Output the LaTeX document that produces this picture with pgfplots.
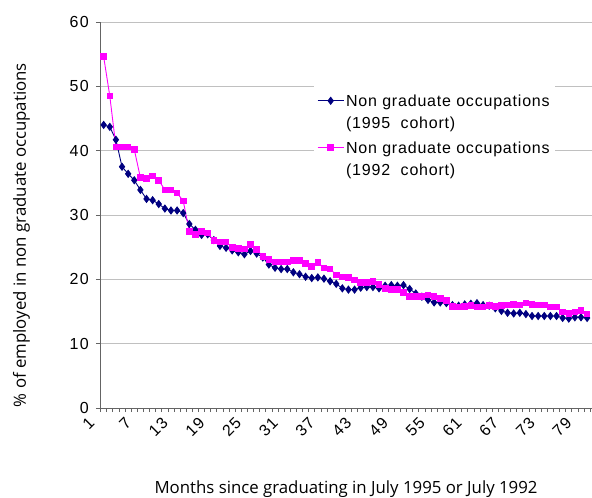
\documentclass[border=0pt]{standalone}
\usepackage{fontspec}
\setmainfont{Liberation Sans}
\newfontfamily\labfont{Open Sans}
\newfontfamily\tickfont{Liberation Sans}[LetterSpace=8]
\newfontfamily\legfont{Liberation Sans}[LetterSpace=5]
\usepackage{pgfplots}
\usepackage{pgfplotstable}
\pgfplotsset{compat=1.18}
\definecolor{navyline}{RGB}{0,0,128}
\definecolor{magline}{RGB}{255,0,255}
\definecolor{gridgray}{RGB}{192,192,192}
\definecolor{axisgray}{RGB}{100,100,100}

% month, 1995 cohort, 1992 cohort (% in non graduate occupations)
\pgfplotstableread{
month c95 c92
1 44.0 54.6
2 43.7 48.5
3 41.7 40.6
4 37.5 40.6
5 36.4 40.6
6 35.4 40.2
7 33.9 35.8
8 32.5 35.7
9 32.3 36.1
10 31.7 35.4
11 31.0 33.9
12 30.7 33.9
13 30.7 33.4
14 30.3 32.2
15 28.6 27.4
16 27.7 27.0
17 26.9 27.4
18 27.0 27.2
19 26.1 26.0
20 25.2 25.8
21 24.9 25.8
22 24.5 25.0
23 24.2 24.8
24 23.9 24.7
25 24.4 25.4
26 24.0 24.6
27 23.4 23.6
28 22.3 23.1
29 21.8 22.7
30 21.6 22.7
31 21.6 22.7
32 21.1 22.9
33 20.8 22.9
34 20.4 22.5
35 20.2 22.0
36 20.3 22.6
37 20.1 21.8
38 19.7 21.6
39 19.3 20.7
40 18.6 20.4
41 18.4 20.3
42 18.4 19.9
43 18.7 19.5
44 18.8 19.5
45 18.8 19.7
46 18.6 19.2
47 19.0 18.6
48 19.1 18.4
49 19.0 18.4
50 19.1 18.0
51 18.5 17.3
52 17.8 17.3
53 17.3 17.3
54 16.8 17.6
55 16.4 17.3
56 16.4 17.0
57 16.3 16.7
58 16.0 15.8
59 15.9 15.7
60 16.1 15.8
61 16.2 15.9
62 16.3 15.7
63 16.0 15.7
64 15.9 15.9
65 15.5 15.8
66 15.1 15.9
67 14.8 16.0
68 14.7 16.1
69 14.8 16.0
70 14.6 16.3
71 14.3 16.1
72 14.3 16.0
73 14.3 16.0
74 14.3 15.7
75 14.3 15.7
76 14.0 14.9
77 13.9 14.7
78 14.1 14.9
79 14.1 15.2
80 14.0 14.6
}\cohorts

\newcommand{\twoline}[2]{\begin{tabular}[t]{@{}l@{}}#1\\#2\end{tabular}}

\begin{document}
\begin{tikzpicture}
\begin{axis}[
  at={(100bp,90bp)}, anchor=south west,
  scale only axis, width=492bp, height=386bp,
  xmin=0.4, xmax=80.8, ymin=0, ymax=60,
  axis x line*=bottom, axis y line*=left,
  axis line style={axisgray, line width=1bp},
  tick align=outside, major tick length=4bp,
  tick style={axisgray, line width=0.8bp},
  /pgf/number format/assume math mode=true,
  ytick={0,10,...,60},
  ymajorgrids, grid style={gridgray, line width=1bp},
  yticklabel style={font=\fontsize{16bp}{18bp}\tickfont, inner sep=0pt, xshift=-7bp},
  xtick={0.5,1.5,...,80.5}, xticklabel=\empty,
  extra x ticks={1,7,...,79},
  extra x tick labels={1,7,13,19,25,31,37,43,49,55,61,67,73,79},
  extra x tick style={major tick length=0bp,
    xticklabel style={font=\fontsize{16bp}{18bp}\tickfont, inner sep=0pt, rotate=45, anchor=east, xshift=-17bp}},
  xlabel={Months since graduating in July 1995 or July 1992},
  xlabel style={font=\fontsize{16.8bp}{19bp}\labfont, at={(axis description cs:0.5,-0.221)}, anchor=base},
  ylabel={\% of employed in non graduate occupations},
  ylabel style={font=\fontsize{16.8bp}{19bp}\labfont, at={(axis description cs:-0.1596,0.448)}, anchor=center, rotate=0},
  legend cell align=left,
  legend image code/.code={\draw[mark repeat=2, mark phase=2] plot coordinates {(0bp,5.5bp) (13bp,5.5bp) (26bp,5.5bp)};},
  legend style={at={(axis description cs:0.435,0.835)}, anchor=north west, draw=none, fill=white,
    font=\fontsize{16bp}{22bp}\legfont, cells={anchor=base west}, row sep=26bp, inner sep=3bp},
]
\addplot[color=navyline, line width=0.9bp, mark=diamond*, mark size=3.5bp,
  mark options={fill=navyline, draw=navyline, solid}] table[x=month, y=c95] {\cohorts};
\addplot[color=magline, line width=0.9bp, mark=square*, mark size=2.8bp,
  mark options={fill=magline, draw=magline, solid}] table[x=month, y=c92] {\cohorts};
\legend{{\twoline{Non graduate occupations}{(1995\ \ cohort)}}, {\twoline{Non graduate occupations}{(1992\ \ cohort)}}}
\end{axis}
\pgfresetboundingbox
\path[use as bounding box] (0,0) rectangle (592bp,498bp);
\end{tikzpicture}
\end{document}
